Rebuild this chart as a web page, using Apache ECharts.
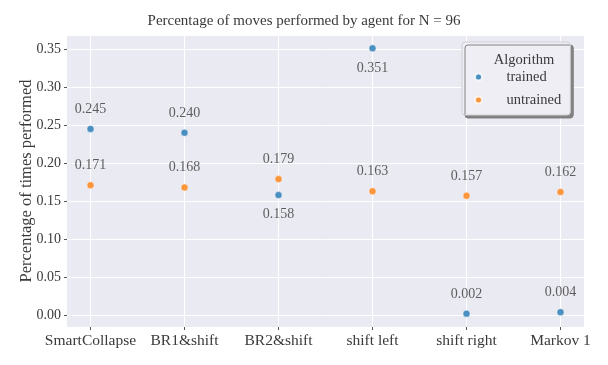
<!DOCTYPE html>
<html>
<head>
<meta charset="utf-8">
<script src="https://cdn.jsdelivr.net/npm/echarts@6/dist/echarts.min.js"></script>
<style>
  html, body { margin: 0; padding: 0; background: #fff; }
  #chart { width: 608px; height: 365px; }
</style>
</head>
<body>
<div id="chart"></div>
<script>
var categories = ['SmartCollapse', 'BR1&shift', 'BR2&shift', 'shift left', 'shift right', 'Markov 1']
var trained = [0.245, 0.240, 0.158, 0.351, 0.002, 0.004]
var untrained = [0.171, 0.168, 0.179, 0.163, 0.157, 0.162]
// where each value label sits, relative to its point
var trainedLabelPos = ['top', 'top', 'bottom', 'bottom', 'top', 'top']
var untrainedLabelPos = ['top', 'top', 'top', 'top', 'top', 'top']

var font = 'Liberation Serif'
var textColor = '#3a3a3a'

// x is the category index, so the axis can have matplotlib-like margins
function points(values, positions) {
  return values.map(function (v, i) {
    return { value: [i, v], label: { position: positions[i] } }
  })
}

// white vertical grid lines, one per category
var categoryLines = categories.map(function (c, i) { return { xAxis: i } })

var myChart = echarts.init(document.getElementById('chart'))
var option = {
  animation: false,
  backgroundColor: '#fff',
  textStyle: { fontFamily: font, color: textColor },
  title: [
    {
      text: 'Percentage of moves performed by agent for N = 96',
      left: 'center',
      top: 9,
      textStyle: { fontFamily: font, fontSize: 15, fontWeight: 'normal', color: textColor }
    },
    {
      text: 'Algorithm',
      left: 519,
      top: 48,
      textAlign: 'center',
      textStyle: { fontFamily: font, fontSize: 14.5, fontWeight: 'normal', color: textColor },
      z: 10
    }
  ],
  legend: {
    orient: 'vertical',
    left: 462,
    top: 42,
    padding: [27, 9, 7, 12],
    itemGap: 7,
    itemWidth: 46,
    itemHeight: 7,
    icon: 'circle',
    backgroundColor: '#eeeef4',
    borderColor: '#cfcfd6',
    borderWidth: 1,
    borderRadius: 3,
    shadowColor: 'rgba(120,120,120,0.9)',
    shadowBlur: 0,
    shadowOffsetX: 3,
    shadowOffsetY: 3,
    textStyle: { fontFamily: font, fontSize: 14.5, color: textColor, lineHeight: 16 },
    data: ['trained', 'untrained'],
    z: 10
  },
  // width 517 = 5.5 * 94, so every category lands on a pixel centre
  grid: {
    left: 67,
    right: 24,
    top: 35,
    bottom: 38,
    show: true,
    backgroundColor: '#eaeaf2',
    borderWidth: 0
  },
  xAxis: {
    type: 'value',
    min: -0.25,
    max: 5.25,
    splitNumber: 5,
    axisLine: { show: false, onZero: false },
    axisTick: { show: true, length: 3, lineStyle: { color: '#555' } },
    axisLabel: {
      fontFamily: font,
      fontSize: 15.5,
      color: textColor,
      margin: 6,
      showMinLabel: false,
      showMaxLabel: false,
      formatter: function (v) { return categories[Math.round(v)] }
    },
    splitLine: { show: false }
  },
  yAxis: {
    type: 'value',
    min: -0.0155,
    max: 0.3685,
    splitNumber: 8,
    name: 'Percentage of times performed',
    nameLocation: 'middle',
    nameGap: 32,
    nameMoveOverlap: false,
    nameTextStyle: { fontFamily: font, fontSize: 16.5, color: textColor },
    axisLine: { show: false, onZero: false },
    axisTick: { show: true, length: 3, lineStyle: { color: '#555' } },
    axisLabel: {
      fontFamily: font,
      fontSize: 14,
      color: textColor,
      margin: 6,
      showMinLabel: false,
      showMaxLabel: false,
      formatter: function (v) { return v.toFixed(2) }
    },
    splitLine: { show: true, lineStyle: { color: '#ffffff', width: 1 } }
  },
  series: [
    {
      // holds only the vertical grid lines, kept under the points
      name: 'gridlines',
      type: 'scatter',
      z: 2,
      silent: true,
      data: [],
      markLine: {
        silent: true,
        symbol: 'none',
        z: 2,
        animation: false,
        label: { show: false },
        lineStyle: { color: '#ffffff', width: 1, type: 'solid', opacity: 1 },
        emphasis: { disabled: true },
        data: categoryLines
      }
    },
    {
      name: 'trained',
      type: 'scatter',
      symbolSize: 7,
      z: 3,
      itemStyle: { color: '#1f77b4', borderColor: '#fff', borderWidth: 0.5 },
      label: {
        show: true,
        distance: 9,
        fontFamily: font,
        fontSize: 14,
        color: textColor,
        formatter: function (p) { return p.value[1].toFixed(3) }
      },
      data: points(trained, trainedLabelPos)
    },
    {
      name: 'untrained',
      type: 'scatter',
      symbolSize: 7,
      z: 3,
      itemStyle: { color: '#ff7f0e', borderColor: '#fff', borderWidth: 0.5 },
      label: {
        show: true,
        distance: 9,
        fontFamily: font,
        fontSize: 14,
        color: textColor,
        formatter: function (p) { return p.value[1].toFixed(3) }
      },
      data: points(untrained, untrainedLabelPos)
    }
  ]
}
myChart.setOption(option)
</script>
</body>
</html>
